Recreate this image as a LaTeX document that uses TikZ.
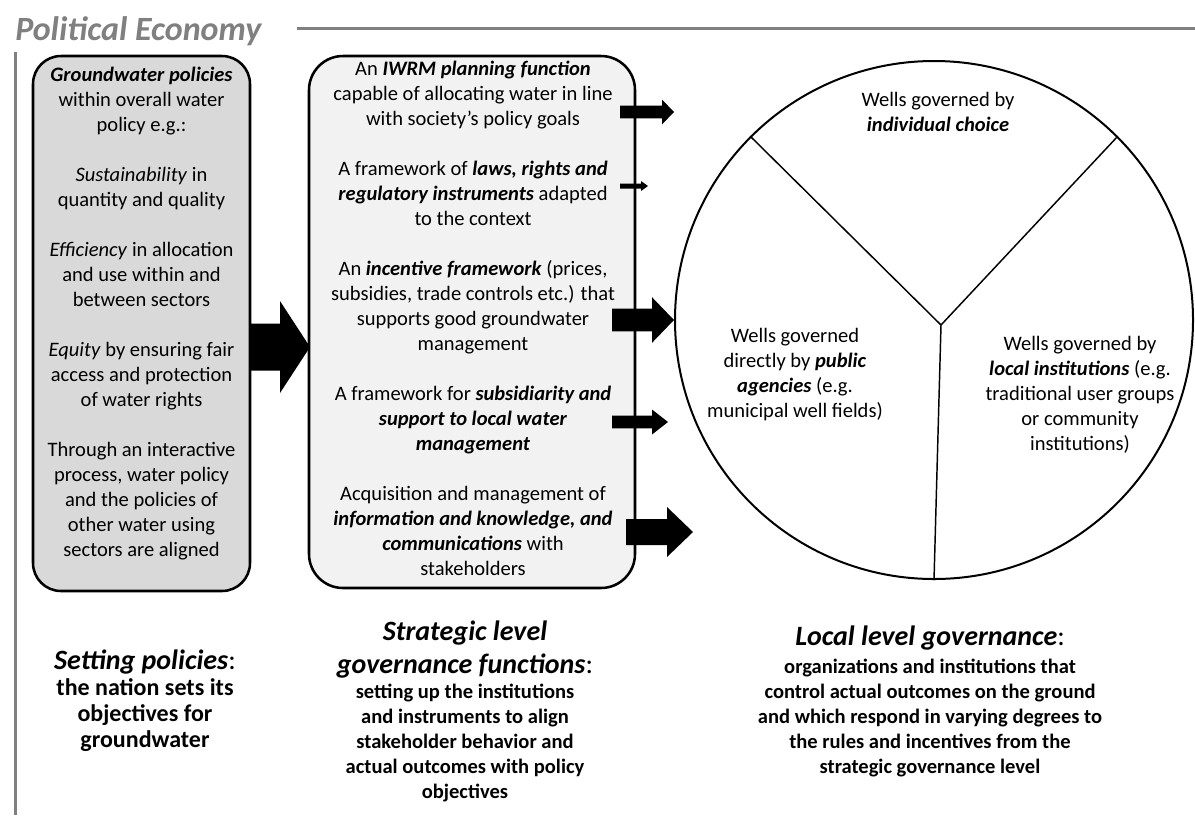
\documentclass[tikz,border=0pt]{standalone}
\usepackage{fontspec}
\setmainfont{Carlito}
\usepackage{xcolor}
\usepackage{tikz}
\usetikzlibrary{calc}
\definecolor{policygray}{HTML}{D9D9D9}
\definecolor{functiongray}{HTML}{F2F2F2}
\definecolor{headgray}{HTML}{808080}
\newcommand{\bi}[1]{\textbf{\textit{#1}}}
% block arrow: tail, tip, half shaft, half head, head length
\newcommand{\fatarrow}[5]{%
  \fill ($(#1)+(0,-#3)$) -- ($(#2)+(-#5,-#3)$) -- ($(#2)+(-#5,-#4)$) -- (#2)
    -- ($(#2)+(-#5,#4)$) -- ($(#2)+(-#5,#3)$) -- ($(#1)+(0,#3)$) -- cycle;}
\tikzstyle{policybox} = [rectangle, rounded corners=21pt, minimum width=162.75pt, minimum height=401.25pt, draw=black, line width=1.9pt, fill=policygray]
\tikzstyle{functionbox} = [rectangle, rounded corners=25.5pt, minimum width=244.5pt, minimum height=399pt, draw=black, line width=1.9pt, fill=functiongray]
\tikzstyle{wellcircle} = [circle, minimum size=388.5pt, inner sep=0pt, draw=black, line width=1.5pt]
\tikzstyle{boxtext} = [align=center, inner sep=0pt, font=\fontsize{15.4pt}{18.75pt}\selectfont]
\tikzstyle{captitle} = [align=center, inner sep=0pt, font=\fontsize{21pt}{24.75pt}\selectfont]
\tikzstyle{capbody} = [align=center, inner sep=0pt, font=\bfseries\fontsize{15.4pt}{18.75pt}\selectfont]
\tikzstyle{greyrule} = [headgray, line width=2.25pt]
\tikzstyle{divider} = [line width=1.1pt]

\begin{document}
\begin{tikzpicture}[x=0.75pt, y=-0.75pt]
	\useasboundingbox (0,0) rectangle (1195,819);

	% frame
	\node (title) [anchor=base west, inner sep=0pt, text=headgray, font=\bfseries\itshape\fontsize{25.5pt}{30pt}\selectfont] at (15,40) {Political Economy};
	\draw [greyrule] (297,28) -- (1195,28);
	\draw [greyrule] (15,52) -- (15,815);

	% boxes
	\node (policies) [policybox] at (141.5,323.5) {};
	\node (functions) [functionbox] at (472,322) {};
	\node (wells) [wellcircle] at (934,320) {};

	\node (policytext) [boxtext] at (141.5,314) {\bi{Groundwater policies}\\ within overall water\\ policy e.g.:\\[18.75pt]
		\textit{Sustainability} in\\ quantity and quality\\[18.75pt]
		\textit{Efficiency} in allocation\\ and use within and\\ between sectors\\[18.75pt]
		\textit{Equity} by ensuring fair\\ access and protection\\ of water rights\\[18.75pt]
		Through an interactive\\ process, water policy\\ and the policies of\\ other water using\\ sectors are aligned};

	\node (functiontext) [boxtext] at (473,318.6) {An \bi{IWRM planning function}\\ capable of allocating water in line\\ with society’s policy goals\\[18.75pt]
		A framework of \bi{laws, rights and}\\ \bi{regulatory instruments} adapted\\ to the context\\[18.75pt]
		An \bi{incentive framework} (prices,\\ subsidies, trade controls etc.) that\\ supports good groundwater\\ management\\[18.75pt]
		A framework for \bi{subsidiarity and}\\ \bi{support to local water}\\ \bi{management}\\[18.75pt]
		Acquisition and management of\\ \bi{information and knowledge, and}\\ \bi{communications} with\\ stakeholders};

	% sectors of the circle
	\coordinate (hub) at (941,325);
	\draw [divider] (hub) -- (wells.135);
	\draw [divider] (hub) -- (wells.45);
	\draw [divider] (hub) -- (wells.270);

	\node (individual) [boxtext] at (938,112) {Wells governed by\\ \bi{individual choice}};
	\node (public) [boxtext] at (795,374.5) {Wells governed\\ directly by \bi{public}\\ \bi{agencies} (e.g.\\ municipal well fields)};
	\node (local) [boxtext] at (1080,395) {Wells governed by\\ \bi{local institutions} (e.g.\\ traditional user groups\\ or community\\ institutions)};

	% block arrows
	\coordinate (bigtail) at (249,347);
	\coordinate (bigtip) at (310,347);
	\fatarrow{bigtail}{bigtip}{23.5}{46}{30}

	\coordinate (tail1) at (620,112);
	\coordinate (tip1) at (674,112);
	\coordinate (tail2) at (620,186);
	\coordinate (tip2) at (648,186);
	\coordinate (tail3) at (612,320);
	\coordinate (tip3) at (wells.west);
	\coordinate (tail4) at (612,422);
	\coordinate (tip4) at (668,422);
	\coordinate (tail5) at (626,532);
	\coordinate (tip5) at (693,532);
	\fatarrow{tail1}{tip1}{6.3}{12.5}{12}
	\fatarrow{tail2}{tip2}{2.5}{5}{7}
	\fatarrow{tail3}{tip3}{11.3}{22.8}{22}
	\fatarrow{tail4}{tip4}{6.3}{12.5}{16}
	\fatarrow{tail5}{tip5}{13}{25}{26}

	% captions
	\node (settitle) [captitle] at (145,662) {\bi{Setting policies}:};
	\node (settext) [capbody, font=\bfseries\fontsize{18pt}{19.5pt}\selectfont] at (145,715) {the nation sets its\\ objectives for\\ groundwater};
	\node (strattitle) [captitle] at (465,649.5) {\bi{Strategic level}\\ \bi{governance functions}:};
	\node (strattext) [capbody] at (465,742.5) {setting up the institutions\\ and instruments to align\\ stakeholder behavior and\\ actual outcomes with policy\\ objectives};
	\node (localtitle) [captitle] at (930,638) {\bi{Local level governance}:};
	\node (localtext) [capbody] at (930,718) {organizations and institutions that\\ control actual outcomes on the ground\\ and which respond in varying degrees to\\ the rules and incentives from the\\ strategic governance level};

\end{tikzpicture}
\end{document}
